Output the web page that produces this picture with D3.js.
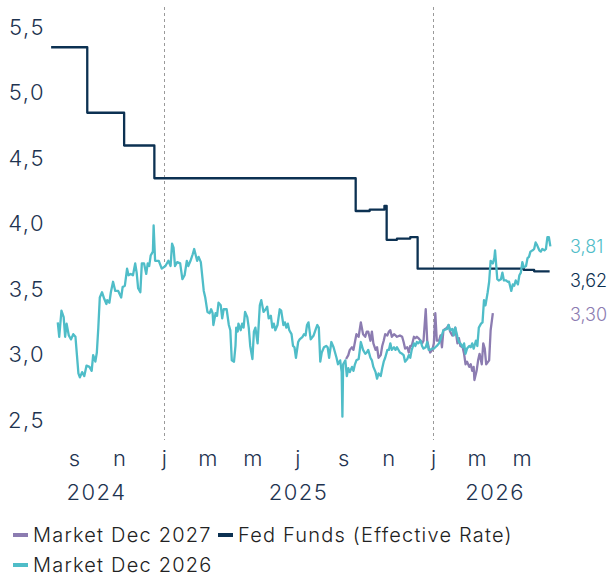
<!DOCTYPE html>
<html>
<head>
  <meta charset="utf-8">
  <script type="text/javascript" src="https://cdn.jsdelivr.net/npm/d3@7"></script>
  <title>Fed Funds vs market</title>
  <style>
    body { margin: 0; background: #fff; }
    text { font-family: Inter, "Open Sans", sans-serif; font-weight: 300; }
  </style>
</head>
<body>
<svg id="chart" width="612" height="577"></svg>
<script>
  // series values (date, rate %)
  var fedFunds = [
    ["2024-08-01", 5.33], ["2024-09-19", 4.83], ["2024-11-08", 4.58], ["2024-12-19", 4.33],
    ["2025-09-18", 4.08], ["2025-10-07", 4.09], ["2025-10-27", 4.12], ["2025-10-30", 3.86],
    ["2025-11-13", 3.87], ["2025-12-01", 3.88], ["2025-12-11", 3.64], ["2026-05-04", 3.63],
    ["2026-05-18", 3.62], ["2026-06-08", 3.62]
  ];

  var marketDec2026 = [
    ["2024-08-10", 3.23], ["2024-08-12", 3.12], ["2024-08-15", 3.32], ["2024-08-18", 3.27],
    ["2024-08-20", 3.12], ["2024-08-22", 3.22], ["2024-08-25", 3.13], ["2024-08-28", 3.10],
    ["2024-08-31", 3.14], ["2024-09-03", 3.12], ["2024-09-05", 2.98], ["2024-09-07", 2.84],
    ["2024-09-09", 2.81], ["2024-09-12", 2.85], ["2024-09-15", 2.82], ["2024-09-18", 2.90],
    ["2024-09-22", 2.89], ["2024-09-25", 2.86], ["2024-09-27", 2.98], ["2024-09-30", 2.93],
    ["2024-10-02", 3.00], ["2024-10-04", 3.19], ["2024-10-06", 3.42], ["2024-10-09", 3.46],
    ["2024-10-12", 3.41], ["2024-10-15", 3.37], ["2024-10-16", 3.40], ["2024-10-19", 3.38],
    ["2024-10-21", 3.46], ["2024-10-24", 3.54], ["2024-10-27", 3.47], ["2024-10-31", 3.47],
    ["2024-11-04", 3.42], ["2024-11-06", 3.50], ["2024-11-09", 3.51], ["2024-11-12", 3.64],
    ["2024-11-14", 3.59], ["2024-11-17", 3.60], ["2024-11-20", 3.59], ["2024-11-23", 3.68],
    ["2024-11-25", 3.61], ["2024-11-27", 3.49], ["2024-11-30", 3.46], ["2024-12-02", 3.68],
    ["2024-12-05", 3.68], ["2024-12-08", 3.60], ["2024-12-10", 3.68], ["2024-12-12", 3.66],
    ["2024-12-14", 3.74], ["2024-12-17", 3.77], ["2024-12-18", 3.97], ["2024-12-20", 3.70],
    ["2024-12-25", 3.70], ["2024-12-29", 3.64], ["2025-01-03", 3.66], ["2025-01-07", 3.70],
    ["2025-01-10", 3.66], ["2025-01-12", 3.83], ["2025-01-14", 3.80], ["2025-01-16", 3.66],
    ["2025-01-19", 3.69], ["2025-01-23", 3.68], ["2025-01-26", 3.56], ["2025-01-29", 3.59],
    ["2025-02-01", 3.70], ["2025-02-03", 3.66], ["2025-02-06", 3.70], ["2025-02-09", 3.75],
    ["2025-02-11", 3.79], ["2025-02-15", 3.70], ["2025-02-17", 3.73], ["2025-02-20", 3.69],
    ["2025-02-24", 3.47], ["2025-02-26", 3.42], ["2025-03-01", 3.31], ["2025-03-04", 3.30],
    ["2025-03-06", 3.33], ["2025-03-08", 3.30], ["2025-03-09", 3.21], ["2025-03-12", 3.30],
    ["2025-03-14", 3.28], ["2025-03-16", 3.38], ["2025-03-19", 3.36], ["2025-03-21", 3.26],
    ["2025-03-23", 3.33], ["2025-03-27", 3.33], ["2025-03-30", 3.21], ["2025-04-01", 3.17],
    ["2025-04-03", 2.94], ["2025-04-06", 2.93], ["2025-04-08", 3.05], ["2025-04-09", 3.19],
    ["2025-04-11", 3.16], ["2025-04-12", 3.22], ["2025-04-15", 3.17], ["2025-04-17", 3.22],
    ["2025-04-19", 3.19], ["2025-04-21", 3.31], ["2025-04-24", 3.27], ["2025-04-26", 3.19],
    ["2025-04-28", 3.05], ["2025-05-01", 2.95], ["2025-05-03", 3.16], ["2025-05-05", 3.19],
    ["2025-05-08", 3.07], ["2025-05-11", 3.36], ["2025-05-13", 3.40], ["2025-05-16", 3.31],
    ["2025-05-19", 3.33], ["2025-05-21", 3.35], ["2025-05-23", 3.26], ["2025-05-26", 3.28],
    ["2025-05-28", 3.19], ["2025-05-30", 3.22], ["2025-06-01", 3.17], ["2025-06-04", 3.21],
    ["2025-06-07", 3.33], ["2025-06-09", 3.32], ["2025-06-12", 3.21], ["2025-06-14", 3.23],
    ["2025-06-16", 3.19], ["2025-06-18", 3.22], ["2025-06-20", 3.17], ["2025-06-23", 3.14],
    ["2025-06-25", 3.05], ["2025-06-27", 3.04], ["2025-06-29", 2.96], ["2025-07-02", 3.08],
    ["2025-07-04", 3.10], ["2025-07-08", 3.12], ["2025-07-10", 3.14], ["2025-07-12", 3.13],
    ["2025-07-14", 3.21], ["2025-07-16", 3.23], ["2025-07-19", 3.10], ["2025-07-23", 3.13],
    ["2025-07-26", 3.18], ["2025-07-28", 3.21], ["2025-07-30", 3.19], ["2025-08-01", 2.93],
    ["2025-08-03", 3.00], ["2025-08-06", 3.04], ["2025-08-09", 3.05], ["2025-08-11", 3.04],
    ["2025-08-13", 2.96], ["2025-08-16", 3.08], ["2025-08-19", 3.04], ["2025-08-21", 3.00],
    ["2025-08-23", 2.96], ["2025-08-25", 2.91], ["2025-08-28", 2.94], ["2025-08-30", 2.85],
    ["2025-08-31", 2.51], ["2025-09-01", 2.91], ["2025-09-04", 2.94], ["2025-09-06", 2.82],
    ["2025-09-08", 2.88], ["2025-09-10", 2.85], ["2025-09-13", 2.89], ["2025-09-15", 2.86],
    ["2025-09-17", 2.91], ["2025-09-19", 2.94], ["2025-09-22", 2.95], ["2025-09-25", 3.08],
    ["2025-09-28", 3.02], ["2025-10-01", 2.99], ["2025-10-03", 3.00], ["2025-10-05", 3.02],
    ["2025-10-08", 2.96], ["2025-10-10", 2.94], ["2025-10-12", 2.89], ["2025-10-15", 2.85],
    ["2025-10-17", 2.80], ["2025-10-19", 2.84], ["2025-10-22", 2.82], ["2025-10-24", 2.88],
    ["2025-10-26", 2.93], ["2025-10-28", 2.96], ["2025-10-31", 3.02], ["2025-11-02", 3.02],
    ["2025-11-04", 3.07], ["2025-11-06", 3.02], ["2025-11-09", 3.04], ["2025-11-11", 3.02],
    ["2025-11-13", 3.04], ["2025-11-17", 3.00], ["2025-11-20", 2.99], ["2025-11-22", 2.98],
    ["2025-11-24", 2.93], ["2025-11-27", 2.95], ["2025-11-29", 2.98], ["2025-12-01", 2.96],
    ["2025-12-03", 3.02], ["2025-12-06", 3.07], ["2025-12-08", 3.05], ["2025-12-10", 3.08],
    ["2025-12-12", 3.07], ["2025-12-15", 3.09], ["2025-12-17", 3.05], ["2025-12-19", 3.03],
    ["2025-12-22", 3.04], ["2025-12-24", 3.08], ["2025-12-26", 3.02], ["2025-12-28", 3.02],
    ["2025-12-31", 3.03], ["2026-01-02", 3.03], ["2026-01-04", 3.04], ["2026-01-06", 3.05],
    ["2026-01-09", 3.07], ["2026-01-11", 3.10], ["2026-01-15", 3.17], ["2026-01-20", 3.18],
    ["2026-01-22", 3.21], ["2026-01-24", 3.17], ["2026-01-27", 3.18], ["2026-01-29", 3.13],
    ["2026-01-31", 3.19], ["2026-02-03", 3.12], ["2026-02-05", 3.08], ["2026-02-07", 3.07],
    ["2026-02-10", 3.04], ["2026-02-12", 3.07], ["2026-02-14", 2.99], ["2026-02-16", 3.03],
    ["2026-02-19", 3.05], ["2026-02-21", 3.04], ["2026-02-23", 3.07], ["2026-02-25", 3.03],
    ["2026-02-28", 3.09], ["2026-03-02", 3.05], ["2026-03-04", 3.19], ["2026-03-07", 3.22],
    ["2026-03-09", 3.23], ["2026-03-11", 3.40], ["2026-03-13", 3.36], ["2026-03-16", 3.46],
    ["2026-03-18", 3.54], ["2026-03-20", 3.70], ["2026-03-23", 3.68], ["2026-03-25", 3.72],
    ["2026-03-26", 3.78], ["2026-03-29", 3.56], ["2026-03-31", 3.55], ["2026-04-03", 3.56],
    ["2026-04-05", 3.61], ["2026-04-07", 3.55], ["2026-04-10", 3.55], ["2026-04-12", 3.54],
    ["2026-04-14", 3.54], ["2026-04-17", 3.47], ["2026-04-19", 3.52], ["2026-04-21", 3.51],
    ["2026-04-23", 3.55], ["2026-04-26", 3.52], ["2026-04-28", 3.59], ["2026-04-30", 3.61],
    ["2026-05-02", 3.69], ["2026-05-04", 3.65], ["2026-05-07", 3.66], ["2026-05-09", 3.72],
    ["2026-05-11", 3.73], ["2026-05-13", 3.77], ["2026-05-16", 3.78], ["2026-05-18", 3.79],
    ["2026-05-20", 3.84], ["2026-05-22", 3.82], ["2026-05-25", 3.78], ["2026-05-27", 3.77],
    ["2026-05-29", 3.79], ["2026-06-01", 3.78], ["2026-06-03", 3.79], ["2026-06-05", 3.88],
    ["2026-06-07", 3.88], ["2026-06-09", 3.81]
  ];

  var marketDec2027 = [
    ["2025-09-05", 2.95], ["2025-09-08", 2.98], ["2025-09-10", 3.02], ["2025-09-13", 3.04],
    ["2025-09-15", 3.02], ["2025-09-17", 3.08], ["2025-09-19", 3.14], ["2025-09-22", 3.12],
    ["2025-09-25", 3.23], ["2025-09-28", 3.14], ["2025-10-01", 3.12], ["2025-10-03", 3.16],
    ["2025-10-05", 3.16], ["2025-10-08", 3.09], ["2025-10-10", 3.16], ["2025-10-12", 3.07],
    ["2025-10-15", 3.02], ["2025-10-17", 3.04], ["2025-10-19", 2.96], ["2025-10-22", 2.98],
    ["2025-10-24", 3.05], ["2025-10-26", 3.09], ["2025-10-28", 3.14], ["2025-10-31", 3.13],
    ["2025-11-02", 3.16], ["2025-11-04", 3.17], ["2025-11-06", 3.12], ["2025-11-09", 3.14],
    ["2025-11-11", 3.13], ["2025-11-13", 3.12], ["2025-11-17", 3.13], ["2025-11-20", 3.12],
    ["2025-11-22", 3.08], ["2025-11-24", 3.03], ["2025-11-27", 3.04], ["2025-11-29", 3.00],
    ["2025-12-01", 3.05], ["2025-12-03", 3.05], ["2025-12-06", 3.12], ["2025-12-08", 3.11],
    ["2025-12-10", 3.12], ["2025-12-12", 3.11], ["2025-12-15", 3.09], ["2025-12-17", 3.07],
    ["2025-12-19", 3.09], ["2025-12-22", 3.33], ["2025-12-24", 3.09], ["2025-12-26", 3.04],
    ["2025-12-28", 3.00], ["2025-12-31", 3.02], ["2026-01-02", 3.07], ["2026-01-04", 3.30],
    ["2026-01-06", 3.09], ["2026-01-09", 3.09], ["2026-01-11", 3.13], ["2026-01-13", 3.04],
    ["2026-01-15", 3.17], ["2026-01-20", 3.19], ["2026-01-22", 3.21], ["2026-01-24", 3.16],
    ["2026-01-27", 3.13], ["2026-01-29", 3.16], ["2026-01-31", 3.19], ["2026-02-03", 3.07],
    ["2026-02-05", 3.11], ["2026-02-07", 3.05], ["2026-02-10", 3.04], ["2026-02-12", 2.99],
    ["2026-02-14", 2.91], ["2026-02-16", 2.93], ["2026-02-19", 2.89], ["2026-02-21", 2.91],
    ["2026-02-23", 2.86], ["2026-02-25", 2.89], ["2026-02-26", 2.79], ["2026-03-01", 2.86],
    ["2026-03-03", 2.94], ["2026-03-05", 2.99], ["2026-03-08", 2.91], ["2026-03-10", 3.07],
    ["2026-03-12", 3.03], ["2026-03-14", 2.91], ["2026-03-18", 2.94], ["2026-03-20", 3.17],
    ["2026-03-23", 3.30]
  ];

  // axis ticks and labels
  var yTicks = [2.5, 3.0, 3.5, 4.0, 4.5, 5.0, 5.5];
  var monthTicks = ["2024-09-01", "2024-11-01", "2025-01-01", "2025-03-01", "2025-05-01",
    "2025-07-01", "2025-09-01", "2025-11-01", "2026-01-01", "2026-03-01", "2026-05-01"];
  var monthLabels = ["s", "n", "j", "m", "m", "j", "s", "n", "j", "m", "m"];
  var years = ["2024", "2025", "2026"];
  var yearMarkers = ["2025-01-01", "2026-01-01"];

  var seriesNames = ["Market Dec 2027", "Fed Funds (Effective Rate)", "Market Dec 2026"];
  var colors = { "Market Dec 2027": "#8c7cb1", "Fed Funds (Effective Rate)": "#0c3152", "Market Dec 2026": "#4fbdc8" };

  var parse = d3.timeParse("%Y-%m-%d");
  var comma = function(v, digits) { return d3.format("." + digits + "f")(v).replace(".", ","); };

  var svg = d3.select("#chart");
  var x = d3.scaleTime().domain([parse("2024-07-02"), parse("2026-06-18")]).range([29, 557]);
  var y = d3.scaleLinear().domain([2.5, 5.5]).range([418, 25]);

  var textColor = "#1e3350";

  // dashed year separators
  svg.selectAll(".sep").data(yearMarkers).enter().append("line")
      .attr("class", "sep")
      .attr("x1", function(d) { return Math.round(x(parse(d))) + 0.5; })
      .attr("x2", function(d) { return Math.round(x(parse(d))) + 0.5; })
      .attr("y1", 7).attr("y2", 440)
      .attr("stroke", "#9a9a9a").attr("stroke-width", 1)
      .attr("stroke-dasharray", "3,3");

  // y axis
  var yAxis = svg.append("g").attr("transform", "translate(45,2)")
      .call(d3.axisLeft(y).tickValues(yTicks).tickSize(0).tickPadding(0)
        .tickFormat(function(d) { return comma(d, 1); }));
  yAxis.select(".domain").remove();
  yAxis.selectAll("text").attr("font-size", 22).attr("fill", textColor)
      .style("font-family", "Inter, sans-serif").style("font-weight", 300)
      .style("letter-spacing", "1.5px");

  // x axis: month initials
  var xAxis = svg.append("g").attr("transform", "translate(0,440)")
      .call(d3.axisBottom(x).tickValues(monthTicks.map(parse)).tickSize(0).tickPadding(10)
        .tickFormat(function(d, i) { return monthLabels[i]; }));
  xAxis.select(".domain").remove();
  xAxis.selectAll("text").attr("font-size", 22).attr("fill", textColor)
      .style("font-family", "Inter, sans-serif").style("font-weight", 300);

  // years centred on the visible part of each year
  var dom = x.domain();
  svg.selectAll(".year").data(years).enter().append("text")
      .attr("class", "year")
      .attr("x", function(d) {
        var a = d3.max([dom[0], parse(d + "-01-01")]);
        var b = d3.min([dom[1], parse((+d + 1) + "-01-01")]);
        return (x(a) + x(b)) / 2;
      })
      .attr("y", 500)
      .attr("text-anchor", "middle")
      .attr("font-size", 22)
      .attr("fill", textColor)
      .style("letter-spacing", "1.5px")
      .text(function(d) { return d; });

  // lines
  var lineFn = function(curve) {
    return d3.line()
      .x(function(d) { return x(parse(d[0])); })
      .y(function(d) { return y(d[1]); })
      .curve(curve);
  };

  var series = [
    { name: "Market Dec 2027", data: marketDec2027, curve: d3.curveLinear },
    { name: "Fed Funds (Effective Rate)", data: fedFunds, curve: d3.curveStepAfter },
    { name: "Market Dec 2026", data: marketDec2026, curve: d3.curveLinear }
  ];

  svg.selectAll(".series").data(series).enter().append("path")
      .attr("class", "series")
      .attr("d", function(s) { return lineFn(s.curve)(s.data); })
      .attr("fill", "none")
      .attr("stroke", function(s) { return colors[s.name]; })
      .attr("stroke-width", 2.3)
      .attr("stroke-linejoin", "round");

  // end labels, pushed apart so they do not collide
  var ends = series.map(function(s) {
    var last = s.data[s.data.length - 1];
    return { name: s.name, value: last[1], y: y(last[1]) };
  }).sort(function(a, b) { return a.y - b.y; });
  for (var i = 1; i < ends.length; i++) {
    if (ends[i].y < ends[i - 1].y + 34) ends[i].y = ends[i - 1].y + 34;
  }
  svg.selectAll(".end").data(ends).enter().append("text")
      .attr("class", "end")
      .attr("x", 570)
      .attr("y", function(d) { return d.y; })
      .attr("dy", "0.35em")
      .attr("font-size", 18)
      .attr("fill", function(d) { return colors[d.name]; })
      .text(function(d) { return comma(d.value, 2); });

  // legend
  var legendItems = [
    { name: seriesNames[0], x: 13, y: 535 },
    { name: seriesNames[1], x: 218, y: 535 },
    { name: seriesNames[2], x: 13, y: 565 }
  ];
  var lg = svg.selectAll(".legend").data(legendItems).enter().append("g")
      .attr("class", "legend")
      .attr("transform", function(d) { return "translate(" + d.x + "," + d.y + ")"; });
  lg.append("line")
      .attr("x1", 0).attr("x2", 15).attr("y1", 0).attr("y2", 0)
      .attr("stroke", function(d) { return colors[d.name]; })
      .attr("stroke-width", 4);
  lg.append("text")
      .attr("x", 20).attr("dy", "0.35em")
      .attr("font-size", 20)
      .attr("fill", "#222")
      .style("letter-spacing", "1.2px")
      .text(function(d) { return d.name; });
</script>
</body>
</html>
